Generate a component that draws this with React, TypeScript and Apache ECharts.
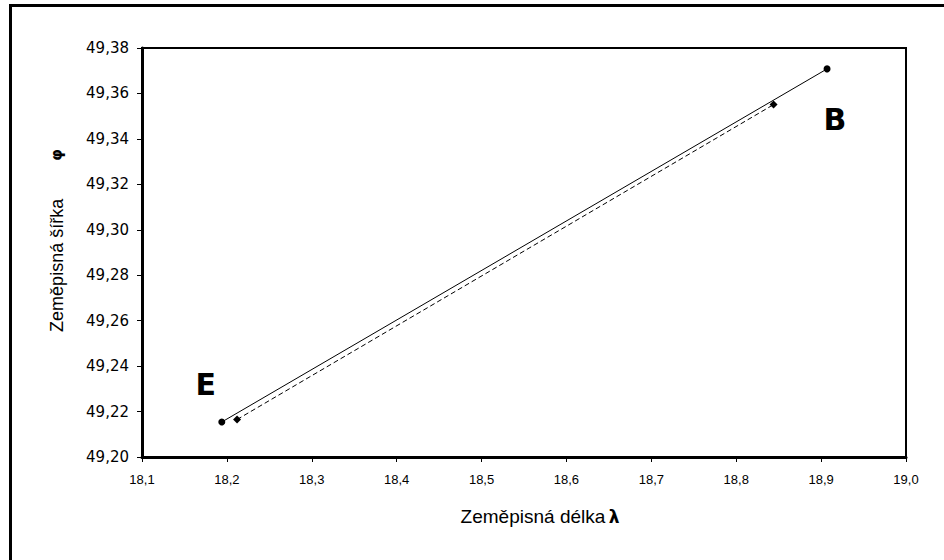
import React, { useEffect, useRef } from "react";
import * as echarts from "echarts";

// Data
const xTicks = { min: 18.1, max: 19.0, interval: 0.1 };
const yTicks = { min: 49.2, max: 49.38, interval: 0.02 };

// Series 1: circles (E to B)
const circleLon = [18.194, 18.907];
const circleLat = [49.2154, 49.3708];
// Series 2: diamonds
const diamondLon = [18.212, 18.844];
const diamondLat = [49.2165, 49.3551];

const pointNames = ["E", "B"];

const xName = "Zeměpisná délka";
const yName = "Zeměpisná šířka";

export default function App() {
  const ref = useRef<HTMLDivElement>(null);

  useEffect(() => {
    document.body.style.margin = "0";
    if (!ref.current) return;
    const chart = echarts.init(ref.current, undefined, { renderer: "svg" });

    const circleData = circleLon.map((x, i) => ({
      value: [x, circleLat[i]],
      name: pointNames[i],
    }));
    const diamondData = diamondLon.map((x, i) => [x, diamondLat[i]]);

    const bigLabel = {
      show: true,
      position: "inside",
      formatter: "{b}",
      fontFamily: "DejaVu Sans",
      fontWeight: 900,
      fontSize: 30,
      color: "#000",
      align: "center",
      verticalAlign: "middle",
    };

    chart.setOption({
      animation: false,
      backgroundColor: "#fff",
      grid: {
        left: 142,
        right: 38,
        top: 48,
        bottom: 103,
        show: true,
        borderColor: "#000",
        borderWidth: 2,
        backgroundColor: "transparent",
      },
      graphic: [
        {
          type: "rect",
          shape: { x: 10.5, y: 5.5, width: 1200, height: 1200 },
          style: { fill: "none", stroke: "#000", lineWidth: 3 },
          silent: true,
        },
      ],
      xAxis: {
        type: "value",
        min: xTicks.min,
        max: xTicks.max,
        interval: xTicks.interval,
        name: `{t|${xName}} {g|λ}`,
        nameLocation: "middle",
        nameGap: 50,
        nameTextStyle: {
          padding: [0, 0, 0, 32],
          rich: {
            t: { fontFamily: "Liberation Sans", fontSize: 19, color: "#000" },
            g: {
              fontFamily: "DejaVu Sans",
              fontSize: 17,
              fontWeight: "bold",
              color: "#000",
            },
          },
        },
        axisLine: { show: true, onZero: false, lineStyle: { color: "#000", width: 3 } },
        axisTick: { show: true, length: 5, lineStyle: { color: "#000", width: 1 } },
        axisLabel: {
          margin: 16,
          fontFamily: "Liberation Sans",
          fontSize: 13,
          color: "#000",
          formatter: (v: number) => v.toFixed(1).replace(".", ","),
        },
        splitLine: { show: false },
      },
      yAxis: {
        type: "value",
        min: yTicks.min,
        max: yTicks.max,
        interval: yTicks.interval,
        name: `{t|${yName}}{g|φ}`,
        nameLocation: "middle",
        nameGap: 76,
        nameRotate: 90,
        nameTextStyle: {
          padding: [0, 0, 0, 24],
          rich: {
            t: { fontFamily: "Liberation Sans", fontSize: 18, color: "#000" },
            g: {
              fontFamily: "DejaVu Sans",
              fontSize: 15,
              fontWeight: "bold",
              color: "#000",
              padding: [0, 0, 0, 38],
            },
          },
        },
        axisLine: { show: true, onZero: false, lineStyle: { color: "#000", width: 3 } },
        axisTick: { show: true, length: 5, lineStyle: { color: "#000", width: 1 } },
        axisLabel: {
          margin: 13,
          fontFamily: "DejaVu Sans",
          fontSize: 15,
          color: "#000",
          formatter: (v: number) => v.toFixed(2).replace(".", ","),
        },
        splitLine: { show: false },
      },
      series: [
        {
          type: "line",
          name: "diamonds",
          data: diamondData,
          symbol: "diamond",
          symbolSize: 8,
          showSymbol: true,
          lineStyle: { color: "#000", width: 1, type: [5, 3] },
          itemStyle: { color: "#000" },
          z: 2,
        },
        {
          type: "line",
          name: "circles",
          data: circleData,
          symbol: "circle",
          symbolSize: 7,
          showSymbol: true,
          lineStyle: { color: "#000", width: 1 },
          itemStyle: { color: "#000" },
          label: bigLabel,
          labelLayout: (params: any) => {
            const idx = params.dataIndex;
            return idx === 0 ? { dx: -16, dy: -38 } : { dx: 8, dy: 51 };
          },
          z: 3,
        },
      ],
    });

    return () => chart.dispose();
  }, []);

  return <div ref={ref} style={{ width: 944, height: 560 }} />;
}
